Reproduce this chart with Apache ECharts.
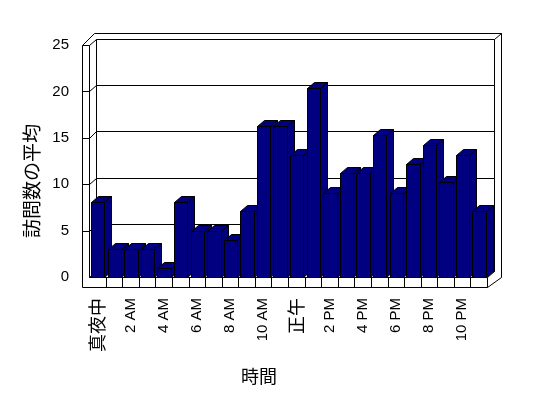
<!DOCTYPE html>
<html>
<head>
<meta charset="utf-8">
<script src="https://cdn.jsdelivr.net/npm/echarts@6/dist/echarts.min.js"></script>
<style>html,body{margin:0;padding:0;background:#fff}#c{width:548px;height:398px}</style>
</head>
<body>
<div id="c"></div>
<script>
const categories = ['真夜中','1 AM','2 AM','3 AM','4 AM','5 AM','6 AM','7 AM','8 AM','9 AM','10 AM','11 AM',
  '正午','1 PM','2 PM','3 PM','4 PM','5 PM','6 PM','7 PM','8 PM','9 PM','10 PM','11 PM'];
const visits = [8.1,3,3,3,1,8.1,5,5,4,7.1,16.3,16.3,13.2,20.4,9.1,11.2,11.2,15.3,9.1,12.2,14.2,10.2,13.2,7.1];
const yTicks = [0,5,10,15,20,25];
const yMax = 25;
const yTitle = '訪問数の平均';
const xTitle = '時間';

const chart = echarts.init(document.getElementById('c'), null, {renderer:'canvas'});
const LAT = '"Liberation Sans", Arial, sans-serif';
const CJK = '"Noto Sans CJK JP", sans-serif';
const p = v => Math.round(v) + 0.5;

function frameItem(params, api) {
  const bw = api.size([1, 0])[0];
  const x0 = api.coord([0, 0])[0] - bw / 2;
  const x1 = api.coord([categories.length - 1, 0])[0] + bw / 2;
  const y0 = api.coord([0, 0])[1];
  const yTop = api.coord([0, yMax])[1];
  const dx = 6.8, dy = -6.5, wt = 7, ft = 9.7;
  const outerTop = yTop + dy - 5.5;
  const outerRight = x1 + dx + 7.4;
  const ch = [];
  const line = (a, b, c, d) => ch.push({type: 'line', shape: {x1: p(a), y1: p(b), x2: p(c), y2: p(d)},
    style: {stroke: '#000', lineWidth: 1}});
  yTicks.forEach(v => {
    const y = api.coord([0, v])[1];
    line(x0 + dx, y + dy, x1 + dx, y + dy);
    line(x0, y, x0 + dx, y + dy);
    if (v > 0) line(x0 - wt, y, x0, y);
  });
  line(x0, yTop, x0, y0);
  line(x0 + dx, yTop + dy, x0 + dx, y0 + dy);
  line(x0 - wt, yTop, x0 - wt, y0 + ft);
  line(x0, y0, x1, y0);
  line(x0 - wt, y0 + ft, x1, y0 + ft);
  for (let k = 1; k <= categories.length; k++) line(x0 + k * bw, y0, x0 + k * bw, y0 + ft);
  line(x1, y0, x1 + dx, y0 + dy);
  line(x1 + dx, yTop + dy, x1 + dx, y0 + dy);
  line(x0 - wt, yTop, x0 - wt + (yTop - outerTop), outerTop);
  line(x0 - wt + (yTop - outerTop), outerTop, outerRight, outerTop);
  line(outerRight, outerTop, outerRight, y0);
  line(outerRight, y0, x1, y0 + ft);
  line(x1 + dx, yTop + dy, outerRight, outerTop);
  return {type: 'group', children: ch};
}

function barItem(params, api) {
  const i = api.value(0), v = api.value(1);
  const bw = api.size([1, 0])[0];
  const t = api.coord([i, v]), b = api.coord([i, 0]);
  const L = p(t[0] - bw / 2 + 2), R = p(t[0] - bw / 2 + 2 + bw * 0.81);
  const T = p(t[1]), B = p(b[1]);
  const dx = 7, dy = -6;
  const st = {fill: '#000080', stroke: '#000', lineWidth: 1};
  return {type: 'group', children: [
    {type: 'polygon', shape: {points: [[L, T], [R, T], [R + dx, T + dy], [L + dx, T + dy]]}, style: st},
    {type: 'polygon', shape: {points: [[R, T], [R + dx, T + dy], [R + dx, B + dy], [R, B]]}, style: st},
    {type: 'polygon', shape: {points: [[L, T], [R, T], [R, B], [L, B]]}, style: st}
  ]};
}

chart.setOption({
  backgroundColor: '#fff',
  animation: false,
  grid: {left: 89, right: 61, top: 45, bottom: 121},
  xAxis: {
    type: 'category', data: categories,
    axisLine: {show: false}, axisTick: {show: false}, splitLine: {show: false},
    axisLabel: {
      interval: 1, rotate: 90, margin: 21, color: '#000', fontSize: 15, fontFamily: LAT,
      formatter: v => /[^\x00-\x7F]/.test(v) ? '{c|' + v + '}' : v,
      rich: {c: {fontSize: 18, fontFamily: CJK, color: '#000'}}
    }
  },
  yAxis: {
    type: 'value', min: 0, max: yMax, interval: 5,
    axisLine: {show: false}, axisTick: {show: false}, splitLine: {show: false},
    axisLabel: {margin: 20, color: '#000', fontSize: 15, fontFamily: LAT}
  },
  graphic: [
    {type: 'text', x: 32, y: 181, rotation: Math.PI / 2,
      style: {text: yTitle, font: '19px ' + CJK, fill: '#000', textAlign: 'center', textVerticalAlign: 'middle'}},
    {type: 'text', x: 259, y: 376,
      style: {text: xTitle, font: '18px ' + CJK, fill: '#000', textAlign: 'center', textVerticalAlign: 'middle'}}
  ],
  series: [
    {type: 'custom', z: 1, silent: true, renderItem: frameItem, data: [[0, 0]], clip: false},
    {type: 'custom', z: 2, silent: true, renderItem: barItem, clip: false,
      data: visits.map((v, i) => [i, v])}
  ]
});
</script>
</body>
</html>
